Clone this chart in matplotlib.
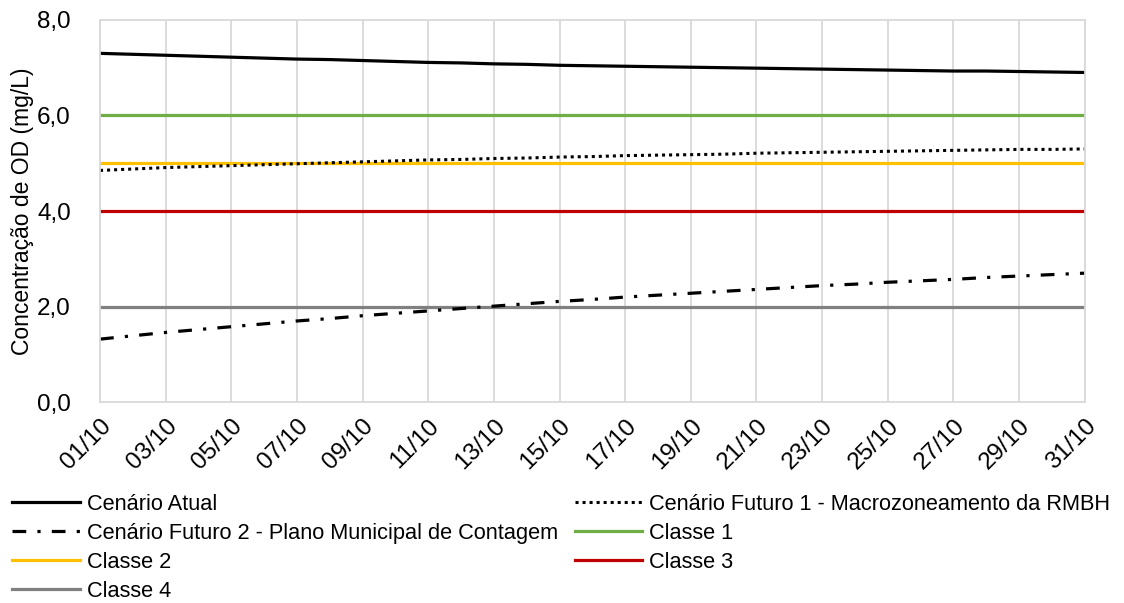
import matplotlib
matplotlib.use("Agg")
import matplotlib.pyplot as plt

plt.rcParams['font.family'] = ['Liberation Sans', 'DejaVu Sans']

# dias de outubro
dias = [f"{d:02d}/10" for d in range(1, 32)]

# concentracao de OD (mg/L)
atual = [7.30, 7.28, 7.26, 7.24, 7.22, 7.20, 7.18, 7.17, 7.15, 7.13, 7.11,
         7.10, 7.08, 7.07, 7.05, 7.04, 7.03, 7.02, 7.01, 7.00, 6.99, 6.98,
         6.97, 6.96, 6.95, 6.94, 6.93, 6.93, 6.92, 6.91, 6.90]
futuro1 = [4.85, 4.88, 4.91, 4.93, 4.95, 4.97, 4.99, 5.01, 5.03, 5.05, 5.07,
           5.08, 5.10, 5.11, 5.13, 5.14, 5.16, 5.17, 5.18, 5.19, 5.21, 5.22,
           5.23, 5.24, 5.25, 5.26, 5.27, 5.28, 5.29, 5.29, 5.30]
futuro2 = [1.32, 1.39, 1.46, 1.52, 1.58, 1.64, 1.70, 1.75, 1.81, 1.86, 1.91,
           1.96, 2.01, 2.06, 2.11, 2.15, 2.20, 2.24, 2.28, 2.32, 2.36, 2.40,
           2.44, 2.47, 2.51, 2.54, 2.57, 2.61, 2.64, 2.67, 2.70]

# limites das classes
classes = {'Classe 1': 6.0, 'Classe 2': 5.0, 'Classe 3': 4.0, 'Classe 4': 2.0}
cores = {'Classe 1': '#70ad47', 'Classe 2': '#ffc000',
         'Classe 3': '#c00000', 'Classe 4': '#808080'}

fig = plt.figure(figsize=(11.24, 6.03), dpi=100)
ax = fig.add_axes([0.089, 0.333, 0.876, 0.634])

x = list(range(len(dias)))
h = {}
for nome, val in classes.items():
    h[nome], = ax.plot(x, [val] * len(x), color=cores[nome], lw=2.3, label=nome)

h['atual'], = ax.plot(x, atual, color='black', lw=2.3, label='Cenário Atual')
h['f1'], = ax.plot(x, futuro1, color='black', lw=2.2, linestyle=(0, (1, 1.3)),
                   label='Cenário Futuro 1 - Macrozoneamento da RMBH')
h['f2'], = ax.plot(x, futuro2, color='black', lw=2.3,
                   linestyle=(0, (4.3, 3.5, 1, 3.5)),
                   label='Cenário Futuro 2 - Plano Municipal de Contagem')

ax.set_xlim(0, 30)
ax.set_ylim(0, 8)
ax.set_xticks(x[::2])
ax.set_xticklabels(dias[::2], rotation=45, ha='right', rotation_mode='anchor')
ax.set_yticks([0, 2, 4, 6, 8])
ax.set_yticklabels(['0,0', '2,0', '4,0', '6,0', '8,0'])
ax.tick_params(length=0, labelsize=17.5)
ax.tick_params(axis='y', pad=21)
ax.tick_params(axis='x', pad=9)
ax.grid(axis='x', color='#d9d9d9', lw=1.3)
ax.set_axisbelow(True)
for s in ax.spines.values():
    s.set_color('#d9d9d9')
    s.set_linewidth(1.3)
ax.set_ylabel('Concentração de OD (mg/L)', fontsize=16.5, labelpad=2)

# ordem em colunas para reproduzir a leitura por linhas
ordem = [h['atual'], h['f2'], h['Classe 2'], h['Classe 4'],
         h['f1'], h['Classe 1'], h['Classe 3']]
fig.legend(handles=ordem, labels=[l.get_label() for l in ordem],
           loc='upper left', bbox_to_anchor=(0.011, 1 - 494 / 603), ncol=2,
           frameon=False, fontsize=15.7, handlelength=3.1, handletextpad=0.3,
           columnspacing=0.78, labelspacing=0.36, borderpad=0, borderaxespad=0)

fig.savefig('out.png', dpi=100)
